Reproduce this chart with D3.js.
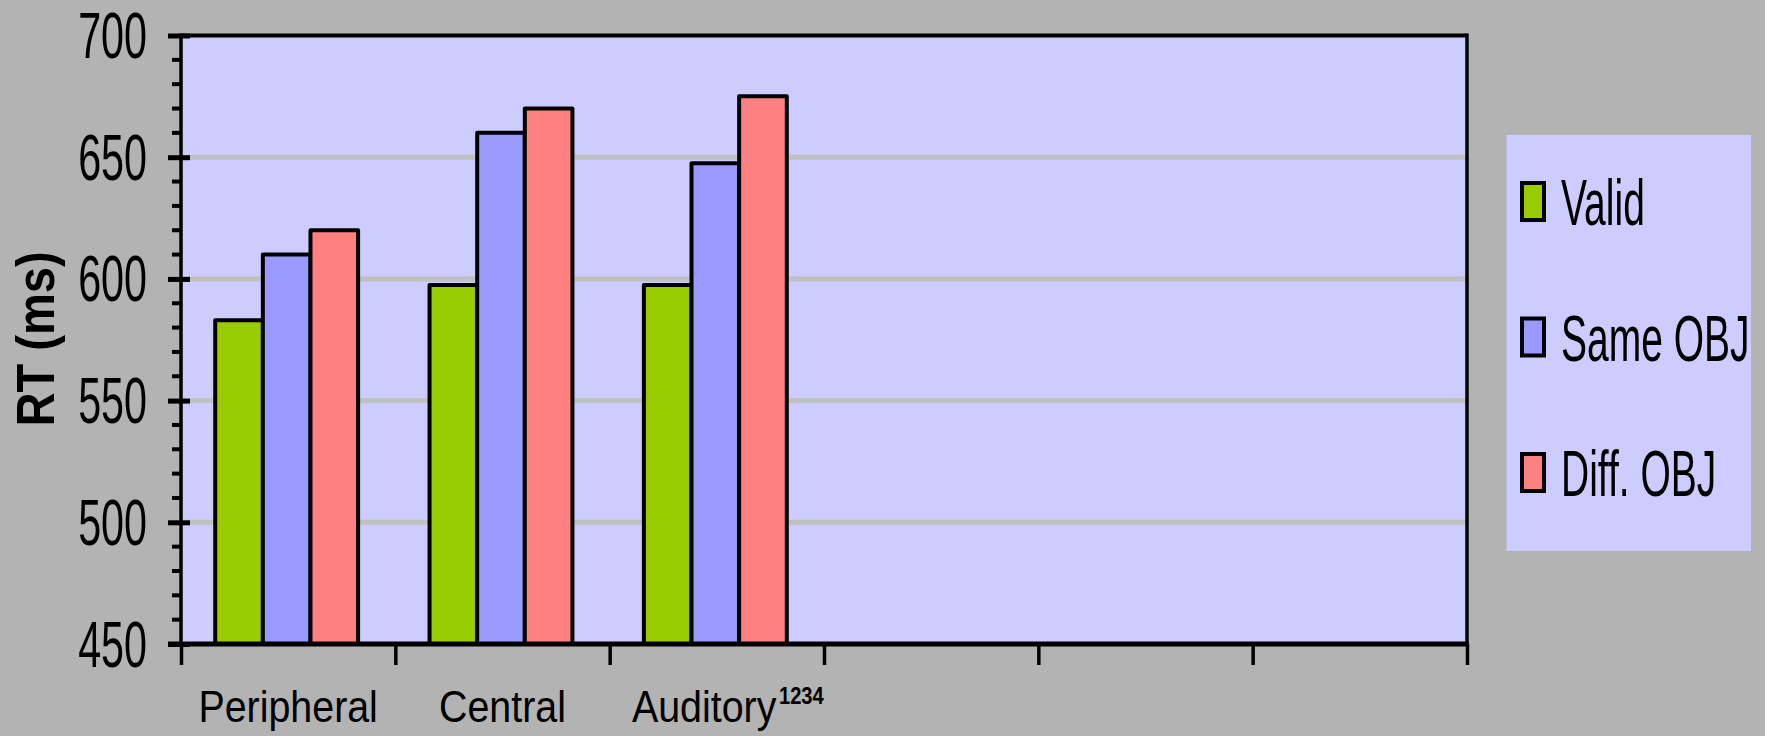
<!DOCTYPE html>
<html>
<head>
<meta charset="utf-8">
<script src="https://cdn.jsdelivr.net/npm/d3@7"></script>
<style>
  html, body { margin: 0; padding: 0; background: #b3b3b3; }
  svg { display: block; }
  text { font-family: "Liberation Sans", Arial, sans-serif; fill: #000; }
</style>
</head>
<body>
<svg id="chart" width="1765" height="736"></svg>
<script>
// Reaction times (ms) per cue condition
const categories = ["Peripheral", "Central", "Auditory"];
const categorySlots = 6;                       // axis reserves six category slots
const seriesNames = ["Valid", "Same OBJ", "Diff. OBJ"];
const validRT = [583, 597.5, 597.5];
const sameObjRT = [610, 660, 647.5];
const diffObjRT = [620, 670, 675];
const yTicks = [450, 500, 550, 600, 650, 700];
const yMinorStep = 10;
const superscripts = { "Auditory": "1234" };

const seriesValues = [validRT, sameObjRT, diffObjRT];
const colors = ["#99cc00", "#9999ff", "#ff8080"];

const svg = d3.select("#chart");

// plot frame
const plot = { left: 181, right: 1467, top: 35.5, bottom: 644 };

const y = d3.scaleLinear().domain([450, 700]).range([plot.bottom, plot.top]);
const x0 = d3.scaleBand().domain(d3.range(categorySlots))
  .range([plot.left, plot.right]).paddingInner(0).paddingOuter(0);
const x1 = d3.scaleBand().domain(d3.range(seriesNames.length))
  .range([0, x0.bandwidth()]).paddingInner(0).paddingOuter(0.75);

// plot background
svg.append("rect")
  .attr("x", plot.left).attr("y", plot.top)
  .attr("width", plot.right - plot.left).attr("height", plot.bottom - plot.top)
  .attr("fill", "#ccccff");

// horizontal gridlines
svg.append("g").selectAll("line")
  .data(yTicks.filter(v => v > 450 && v < 700))
  .join("line")
  .attr("x1", plot.left).attr("x2", plot.right)
  .attr("y1", d => y(d)).attr("y2", d => y(d))
  .attr("stroke", "#c0c0c0").attr("stroke-width", 5);

// bars
const groups = svg.append("g").selectAll("g")
  .data(categories)
  .join("g")
  .attr("transform", (d, i) => `translate(${x0(i) - 1.5},0)`);

groups.selectAll("rect")
  .data((d, i) => seriesValues.map((vals, s) => ({ s, v: vals[i] })))
  .join("rect")
  .attr("x", d => x1(d.s))
  .attr("width", x1.bandwidth())
  .attr("y", d => y(d.v))
  .attr("height", d => y(450) - y(d.v))
  .attr("fill", d => colors[d.s])
  .attr("stroke", "#000")
  .attr("stroke-width", 4)
  .attr("stroke-linejoin", "round");

// frame: top and right borders
svg.append("line")
  .attr("x1", plot.left).attr("x2", plot.right)
  .attr("y1", plot.top).attr("y2", plot.top)
  .attr("stroke", "#000").attr("stroke-width", 4);
svg.append("line")
  .attr("x1", plot.right).attr("x2", plot.right)
  .attr("y1", plot.top - 2).attr("y2", plot.bottom)
  .attr("stroke", "#000").attr("stroke-width", 3.5);

// y axis: minor ticks, major ticks and line
const yMinor = d3.range(450, 700 + 0.001, yMinorStep).filter(v => !yTicks.includes(v));
svg.append("g").selectAll("line")
  .data(yMinor)
  .join("line")
  .attr("x1", plot.left - 9).attr("x2", plot.left)
  .attr("y1", d => y(d)).attr("y2", d => y(d))
  .attr("stroke", "#000").attr("stroke-width", 4);

const yAxis = svg.append("g")
  .attr("transform", `translate(${plot.left},0)`)
  .call(d3.axisLeft(y).tickValues(yTicks).tickSize(13).tickFormat(""));
yAxis.select(".domain").remove();
yAxis.selectAll(".tick line")
  .attr("x2", -13).attr("x1", 9)
  .attr("stroke", "#000").attr("stroke-width", 5);

svg.append("line")
  .attr("x1", plot.left).attr("x2", plot.left)
  .attr("y1", plot.top - 2).attr("y2", plot.bottom + 2)
  .attr("stroke", "#000").attr("stroke-width", 3.5);

// y tick labels (condensed)
const yLab = svg.append("g").selectAll("g")
  .data(yTicks)
  .join("g")
  .attr("transform", d => `translate(147,${y(d) + 22.5})`);
yLab.append("text")
  .attr("transform", "scale(0.645,1)")
  .attr("text-anchor", "end")
  .attr("font-size", 64)
  .text(d => d);

// x axis: boundary ticks and line
const xb = d3.scaleLinear().domain([0, categorySlots]).range([plot.left, plot.right]);
const xAxis = svg.append("g")
  .attr("transform", `translate(0,${plot.bottom})`)
  .call(d3.axisBottom(xb).tickValues(d3.range(categorySlots + 1)).tickSize(21).tickFormat(""));
xAxis.select(".domain").remove();
xAxis.selectAll(".tick line").attr("stroke", "#000").attr("stroke-width", 3.5);

svg.append("line")
  .attr("x1", plot.left - 13).attr("x2", plot.right + 1.5)
  .attr("y1", plot.bottom).attr("y2", plot.bottom)
  .attr("stroke", "#000").attr("stroke-width", 5);

// category labels
const catLab = svg.append("g").selectAll("g")
  .data(categories)
  .join("g")
  .attr("transform", (d, i) => `translate(${x0(i) + x0.bandwidth() / 2 + (superscripts[d] ? 11 : 0)},721.5)`);
const catText = catLab.append("text")
  .attr("transform", "scale(0.875,1)")
  .attr("text-anchor", "middle")
  .attr("font-size", 45);
catText.append("tspan").text(d => d);
catText.filter(d => superscripts[d])
  .append("tspan")
  .attr("dx", 3)
  .attr("dy", -17.5)
  .attr("font-size", 23)
  .attr("font-weight", "bold")
  .text(d => superscripts[d]);

// y axis title
svg.append("g")
  .attr("transform", "translate(53.5,339) rotate(-90)")
  .append("text")
  .attr("transform", "scale(0.88,1)")
  .attr("text-anchor", "middle")
  .attr("font-size", 53.5)
  .attr("font-weight", "bold")
  .text("RT (ms)");

// legend
const legend = svg.append("g");
legend.append("rect")
  .attr("x", 1506.5).attr("y", 135)
  .attr("width", 244.5).attr("height", 416)
  .attr("fill", "#ccccff");

const legendY = d3.scalePoint().domain(d3.range(seriesNames.length)).range([201.5, 472.5]);
const items = legend.selectAll("g.item")
  .data(seriesNames)
  .join("g")
  .attr("class", "item")
  .attr("transform", (d, i) => `translate(0,${legendY(i)})`);
items.append("rect")
  .attr("x", 1522).attr("y", -18.5)
  .attr("width", 22).attr("height", 37)
  .attr("fill", (d, i) => colors[i])
  .attr("stroke", "#000").attr("stroke-width", 4);
items.append("g")
  .attr("transform", "translate(1561,23.5)")
  .append("text")
  .attr("transform", "scale(0.6,1)")
  .attr("font-size", 65)
  .text(d => d);
</script>
</body>
</html>
